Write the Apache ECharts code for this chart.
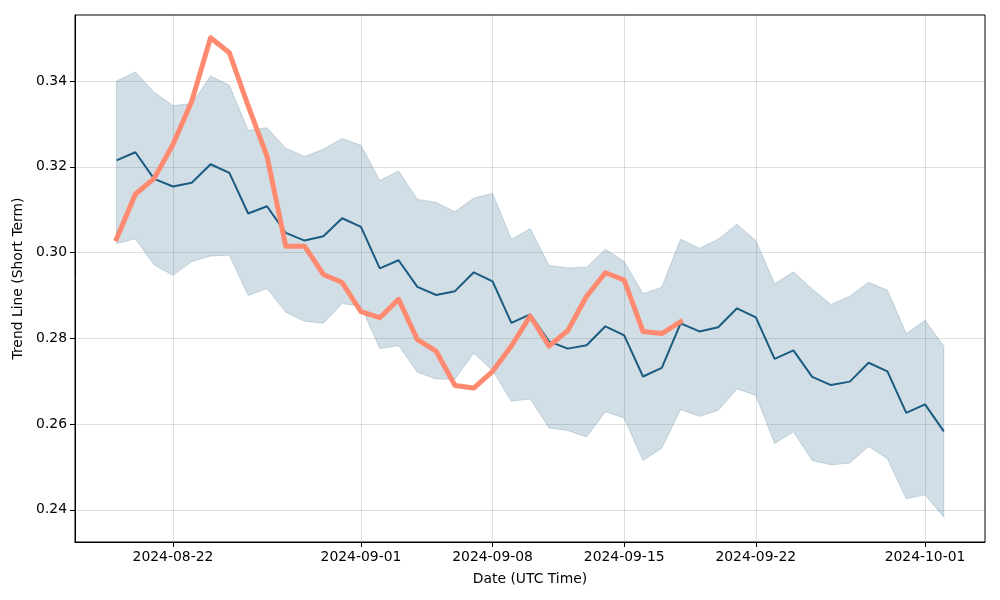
<!DOCTYPE html>
<html>
<head>
<meta charset="utf-8">
<script src="https://cdn.jsdelivr.net/npm/echarts@6/dist/echarts.min.js"></script>
<style>html,body{margin:0;padding:0;background:#fff}#c{width:1000px;height:600px}</style>
</head>
<body>
<div id="c"></div>
<script>
const dates = [
 '2024-08-19','2024-08-20','2024-08-21','2024-08-22','2024-08-23','2024-08-24','2024-08-25','2024-08-26','2024-08-27','2024-08-28',
 '2024-08-29','2024-08-30','2024-08-31','2024-09-01','2024-09-02','2024-09-03','2024-09-04','2024-09-05','2024-09-06','2024-09-07',
 '2024-09-08','2024-09-09','2024-09-10','2024-09-11','2024-09-12','2024-09-13','2024-09-14','2024-09-15','2024-09-16','2024-09-17',
 '2024-09-18','2024-09-19','2024-09-20','2024-09-21','2024-09-22','2024-09-23','2024-09-24','2024-09-25','2024-09-26','2024-09-27',
 '2024-09-28','2024-09-29','2024-09-30','2024-10-01','2024-10-02'];
const trendMid = [
 0.3215,0.3234,0.3172,0.3154,0.3163,0.3206,0.3186,0.3091,0.3108,0.3046,
 0.3028,0.3038,0.3080,0.3060,0.2963,0.2982,0.2920,0.2901,0.2910,0.2954,
 0.2933,0.2836,0.2856,0.2793,0.2776,0.2784,0.2828,0.2807,0.2711,0.2731,
 0.2835,0.2816,0.2826,0.2870,0.2849,0.2752,0.2772,0.2710,0.2691,0.2699,
 0.2743,0.2723,0.2626,0.2646,0.2583];
const trendUpper = [
 0.3400,0.3421,0.3374,0.3343,0.3347,0.3412,0.3390,0.3285,0.3291,0.3243,
 0.3224,0.3241,0.3266,0.3250,0.3168,0.3190,0.3124,0.3117,0.3095,0.3127,
 0.3138,0.3031,0.3056,0.2970,0.2964,0.2966,0.3008,0.2979,0.2904,0.2919,
 0.3031,0.3010,0.3031,0.3066,0.3028,0.2927,0.2955,0.2915,0.2879,0.2898,
 0.2931,0.2912,0.2811,0.2842,0.2782];
const trendLower = [
 0.3021,0.3032,0.2971,0.2947,0.2979,0.2992,0.2994,0.2900,0.2916,0.2861,
 0.2840,0.2835,0.2881,0.2875,0.2776,0.2783,0.2721,0.2705,0.2705,0.2765,
 0.2725,0.2653,0.2659,0.2591,0.2585,0.2570,0.2629,0.2614,0.2515,0.2544,
 0.2634,0.2618,0.2632,0.2682,0.2667,0.2555,0.2582,0.2515,0.2505,0.2509,
 0.2548,0.2519,0.2426,0.2435,0.2383];
const actual = [
 0.3032,0.3136,0.3173,0.3252,0.3353,0.3501,0.3466,0.3342,0.3225,0.3015,
 0.3015,0.2949,0.2930,0.2862,0.2848,0.2891,0.2797,0.2770,0.2690,0.2684,
 0.2723,0.2782,0.2852,0.2782,0.2818,0.2898,0.2953,0.2936,0.2816,0.2811,
 0.2839];
const xTicks = ['2024-08-22','2024-09-01','2024-09-08','2024-09-15','2024-09-22','2024-10-01'];
const yTicks = [0.24,0.26,0.28,0.30,0.32,0.34];

const ts = d => Date.parse(d + 'T00:00:00Z');
const DAY = 86400000;
const xMin = ts('2024-08-19') - 2.21 * DAY;
const xMax = ts('2024-10-02') + 2.19 * DAY;

const pair = arr => arr.map((v, i) => [ts(dates[i]), v]);
const bandData = dates.map((d, i) => [ts(d), trendLower[i], trendUpper[i]]);

const FONT = 'DejaVu Sans';
const lineColor = '#1a5b82';
const chart = echarts.init(document.getElementById('c'), null, {renderer: 'canvas'});
chart.setOption({
  animation: false,
  backgroundColor: '#fff',
  textStyle: {fontFamily: FONT},
  grid: {left: 75, right: 15, top: 15, bottom: 58, show: true, borderColor: '#000', borderWidth: 1, backgroundColor: 'transparent', containLabel: false},
  xAxis: {
    type: 'value', min: xMin, max: xMax, scale: true,
    name: 'Date (UTC Time)', nameLocation: 'middle', nameGap: 30,
    nameTextStyle: {fontFamily: FONT, fontSize: 13.9, color: '#000'},
    axisLine: {show: true, onZero: false, lineStyle: {color: '#000', width: 1}},
    axisTick: {show: true, length: 5, lineStyle: {color: '#000'}, customValues: xTicks.map(ts)},
    axisLabel: {show: true, color: '#000', fontFamily: FONT, fontSize: 13.9, margin: 8, customValues: xTicks.map(ts),
      formatter: v => new Date(v).toISOString().slice(0, 10), hideOverlap: false},
    splitLine: {show: true, lineStyle: {color: 'rgba(0,0,0,0.12)', width: 1}}
  },
  yAxis: {
    type: 'value', min: 0.2325, max: 0.3554,
    name: 'Trend Line (Short Term)', nameLocation: 'middle', nameGap: 48, nameRotate: 90,
    nameTextStyle: {fontFamily: FONT, fontSize: 13.9, color: '#000'},
    axisLine: {show: true, lineStyle: {color: '#000', width: 1}},
    axisTick: {show: true, length: 5, lineStyle: {color: '#000'}, customValues: yTicks},
    axisLabel: {show: true, color: '#000', fontFamily: FONT, fontSize: 13.9, margin: 8, customValues: yTicks,
      formatter: v => v.toFixed(2)},
    splitLine: {show: true, lineStyle: {color: 'rgba(0,0,0,0.12)', width: 1}}
  },
  series: [
    {type: 'custom', name: 'band', data: bandData, z: 1, silent: true,
     encode: {x: 0, y: [1, 2]},
     renderItem: function (params, api) {
       if (params.dataIndex !== 0) return null;
       const upperPts = bandData.map(r => api.coord([r[0], r[2]]));
       const lowerPts = bandData.map(r => api.coord([r[0], r[1]])).reverse();
       return {
         type: 'polygon',
         shape: {points: upperPts.concat(lowerPts)},
         style: {fill: 'rgba(26,91,130,0.2)', stroke: 'rgba(26,91,130,0.2)', lineWidth: 1}
       };
     }},
    {type: 'line', name: 'trend', data: pair(trendMid), symbol: 'none',
     lineStyle: {color: lineColor, width: 2}, z: 3},
    {type: 'line', name: 'actual', data: pair(actual), symbol: 'none',
     lineStyle: {color: '#ff8a70', width: 5, cap: 'square', join: 'round'}, z: 4}
  ]
});
</script>
</body>
</html>
